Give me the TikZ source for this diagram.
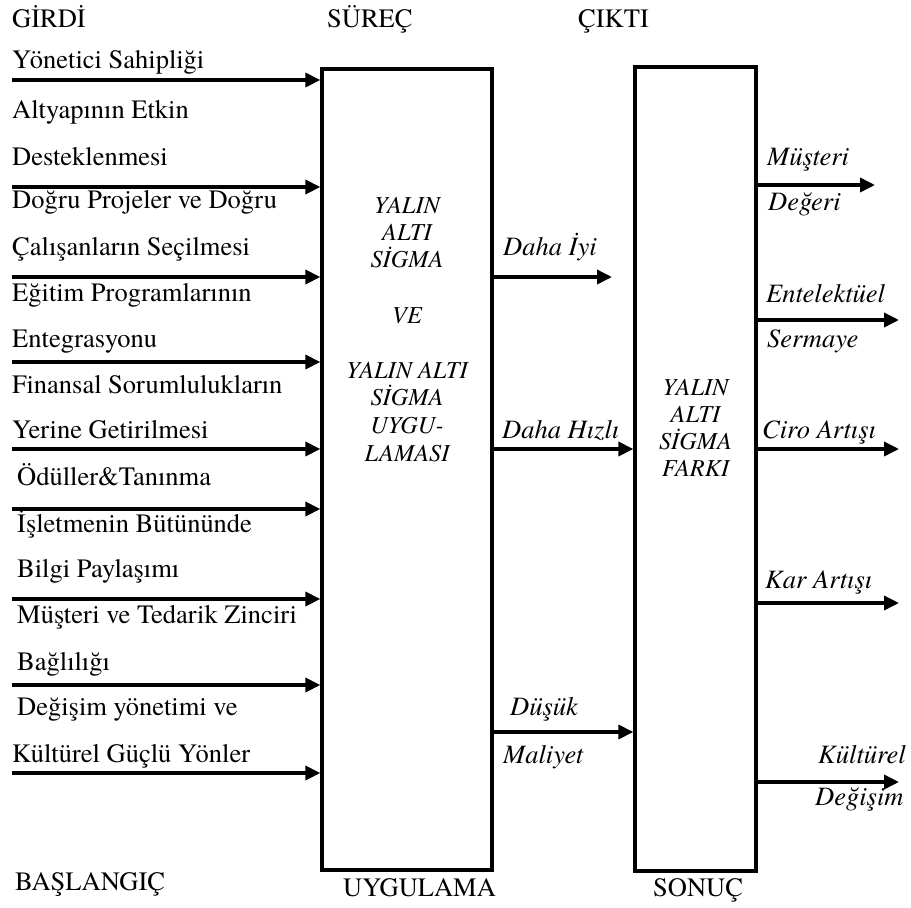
\documentclass[tikz,border=0pt]{standalone}
\usepackage{fontspec}
\setmainfont{texgyretermes-regular.otf}[
  ItalicFont=texgyretermes-italic.otf,
  BoldFont=texgyretermes-bold.otf,
  BoldItalicFont=texgyretermes-bolditalic.otf]
\usetikzlibrary{arrows.meta}
\begin{document}
\begin{tikzpicture}[x=1pt,y=-1pt,
  frame/.style={draw, line width=3.3pt, inner sep=0pt},
  flow/.style={line width=3.5pt, -{Triangle[length=15pt,width=14pt]}},
  lbl/.style={inner sep=0pt, anchor=base west, font=\fontsize{26.5}{28}\selectfont},
  outlbl/.style={inner sep=0pt, anchor=base west, font=\fontsize{26.5}{28}\selectfont\itshape},
  boxtxt/.style={inner sep=0pt, anchor=base, font=\fontsize{24.3}{27}\selectfont\itshape}]
\useasboundingbox (0,0) rectangle (911,908);

% the two process blocks
\node[frame, minimum width=170pt, minimum height=801pt] (proc) at (407,469.5) {};
\node[frame, minimum width=121pt, minimum height=804pt] (res) at (695.5,469) {};

% column headings
\node[lbl] (hin)  at (12,27)  {GİRDİ};
\node[lbl] (hpr)  at (327,27) {SÜREÇ};
\node[lbl] (hout) at (578,27) {ÇIKTI};
\node[lbl] (fin)  at (15,890) {BAŞLANGIÇ};
\node[lbl] (fpr)  at (343,896) {UYGULAMA};
\node[lbl] (fout) at (653,896) {SONUÇ};

% input factors
\foreach \n/\x/\y/\t in {
  t1/12/68/Yönetici Sahipliği,
  t2/12/118/Altyapının Etkin,
  t3/12/165/Desteklenmesi,
  t4/12/208/Doğru Projeler ve Doğru,
  t5/12/255/Çalışanların Seçilmesi,
  t6/12/301/Eğitim Programlarının,
  t7/12/347/Entegrasyonu,
  t8/12/393/Finansal Sorumlulukların,
  t9/12/438/Yerine Getirilmesi,
  t10/17/485/Ödüller\&Tanınma,
  t11/17/532/İşletmenin Bütününde,
  t12/17/577/Bilgi Paylaşımı,
  t13/17/623/Müşteri ve Tedarik Zinciri,
  t14/17/670/Bağlılığı,
  t15/17/715/Değişim yönetimi ve,
  t16/12/762/Kültürel Güçlü Yönler}
  \node[lbl] (\n) at (\x,\y) {\t};

% input arrows into the first block
\foreach \n/\y in {i1/80, i2/187, i3/277, i4/362, i5/449, i6/509, i7/599, i8/685, i9/773} {
  \coordinate (\n) at (12,\y);
  \draw[flow] (\n) -- (\n -| proc.west);
}

% text of the first block
\foreach \n/\y/\t in {p1/213/YALIN, p2/240/ALTI, p3/267/SİGMA, p4/323/VE,
  p5/378/YALIN ALTI, p6/405/SİGMA, p7/433/UYGU-, p8/461/LAMASI}
  \node[boxtxt] (\n) at (407,\y) {\t};

% text of the second block
\foreach \n/\y/\t in {r1/395/YALIN, r2/422/ALTI, r3/449/SİGMA, r4/476/FARKI}
  \node[boxtxt] (\n) at (695.5,\y) {\t};

% outputs of the first block
\coordinate (o1) at (612,277);
\draw[flow] (proc.east |- o1) -- (o1);
\node[outlbl] (m1) at (503,255) {Daha İyi};
\coordinate (o2) at (0,449);
\draw[flow] (proc.east |- o2) -- (res.west |- o2);
\node[outlbl] (m2) at (502,438) {Daha Hızlı};
\coordinate (o3) at (0,732);
\draw[flow] (proc.east |- o3) -- (res.west |- o3);
\node[outlbl] (m3) at (510,715) {Düşük};
\node[outlbl] (m4) at (503,763) {Maliyet};

% results of the second block
\coordinate (e1) at (875,185);
\draw[flow] (res.east |- e1) -- (e1);
\node[outlbl] (n1) at (767,165) {Müşteri};
\node[outlbl] (n2) at (768,210) {Değeri};
\coordinate (e2) at (899,320);
\draw[flow] (res.east |- e2) -- (e2);
\node[outlbl] (n3) at (766,302) {Entelektüel};
\node[outlbl] (n4) at (767,347) {Sermaye};
\coordinate (e3) at (899,449);
\draw[flow] (res.east |- e3) -- (e3);
\node[outlbl] (n5) at (762,438) {Ciro Artışı};
\coordinate (e4) at (899,603);
\draw[flow] (res.east |- e4) -- (e4);
\node[outlbl] (n6) at (765,588) {Kar Artışı};
\coordinate (e5) at (899,782);
\draw[flow] (res.east |- e5) -- (e5);
\node[outlbl] (n7) at (818,763) {Kültürel};
\node[outlbl] (n8) at (815,805) {Değişim};
\end{tikzpicture}
\end{document}
